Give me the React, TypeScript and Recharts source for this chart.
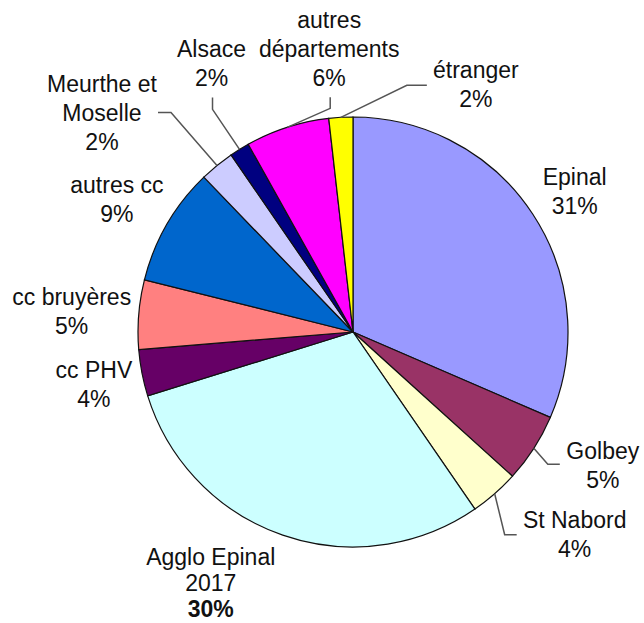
import { Cell, Pie, PieChart } from "recharts"

const categories = [
  "Epinal",
  "Golbey",
  "St Nabord",
  "Agglo Epinal 2017",
  "cc PHV",
  "cc bruyères",
  "autres cc",
  "Meurthe et Moselle",
  "Alsace",
  "autres départements",
  "étranger",
]

// shares (labels below are the rounded values shown)
const shares = [31.5, 5.2, 3.7, 29.8, 3.5, 5.2, 8.9, 2.6, 1.5, 6.3, 1.8]

const percentLabels = ["31%", "5%", "4%", "30%", "4%", "5%", "9%", "2%", "2%", "6%", "2%"]

const labelLines = [
  ["Epinal"],
  ["Golbey"],
  ["St Nabord"],
  ["Agglo Epinal", "2017"],
  ["cc PHV"],
  ["cc bruyères"],
  ["autres cc"],
  ["Meurthe et", "Moselle"],
  ["Alsace"],
  ["autres", "départements"],
  ["étranger"],
]

const colors = [
  "#9999ff",
  "#993366",
  "#ffffcc",
  "#ccffff",
  "#660066",
  "#ff8080",
  "#0066cc",
  "#ccccff",
  "#000080",
  "#ff00ff",
  "#ffff00",
]

const data = categories.map((name, i) => ({ name, value: shares[i] }))

// label placement relative to the slice edge point: text offset + optional leader elbow/end
const placement: any[] = [
  { dx: 42, dy: -29 },
  { dx: 69, dy: 11, lead: [[14, 16], [26, 16]] },
  { dx: 80, dy: 34, lead: [[10, 41], [22, 41]] },
  { dx: -72, dy: 30, lineH: 26 },
  { dx: -48, dy: 5 },
  { dx: -67, dy: -9 },
  { dx: -50, dy: -31 },
  { dx: -115, dy: -73, lead: [[-46, -53], [-59, -53]] },
  { dx: -28, dy: -92, lead: [[-27, -40], [-27, -52]] },
  { dx: 42, dy: -99, lead: [[43, -19], [43, -30]] },
  { dx: 135, dy: -39, lead: [[66, -32], [86, -32]] },
]

const RAD = Math.PI / 180

const renderLabel = (props: any) => {
  const { cx, cy, midAngle, outerRadius, index } = props
  const ex = cx + Math.cos(-midAngle * RAD) * outerRadius
  const ey = cy + Math.sin(-midAngle * RAD) * outerRadius
  const p = placement[index]
  const lines = labelLines[index]
  const lh = p.lineH ?? 29
  const tx = ex + p.dx
  const ty = ey + p.dy
  const bold = index === 3
  return (
    <g key={`lbl-${index}`}>
      {p.lead && (
        <polyline
          points={`${ex},${ey} ${ex + p.lead[0][0]},${ey + p.lead[0][1]} ${ex + p.lead[1][0]},${ey + p.lead[1][1]}`}
          fill="none"
          stroke="#555555"
          strokeWidth={1.5}
        />
      )}
      <text
        x={tx}
        y={ty}
        textAnchor="middle"
        fill="#111111"
        fontSize={23}
        fontFamily="'Liberation Sans', Arial, sans-serif"
      >
        {lines.map((l, i) => (
          <tspan key={i} x={tx} y={ty + i * lh}>
            {l}
          </tspan>
        ))}
        <tspan x={tx} y={ty + lines.length * lh} fontWeight={bold ? "bold" : "normal"}>
          {percentLabels[index]}
        </tspan>
      </text>
    </g>
  )
}

export default function App() {
  return (
    <div style={{ position: "absolute", left: 0, top: 0, background: "#ffffff" }}>
      <PieChart width={644} height={623} margin={{ top: 0, right: 0, bottom: 0, left: 0 }}>
        <Pie
          data={data}
          dataKey="value"
          nameKey="name"
          cx={353}
          cy={332}
          outerRadius={215}
          startAngle={90}
          endAngle={-270}
          stroke="#111111"
          strokeWidth={1.2}
          label={renderLabel}
          labelLine={false}
          isAnimationActive={false}
        >
          {data.map((d, i) => (
            <Cell key={d.name} fill={colors[i]} />
          ))}
        </Pie>
      </PieChart>
    </div>
  )
}
